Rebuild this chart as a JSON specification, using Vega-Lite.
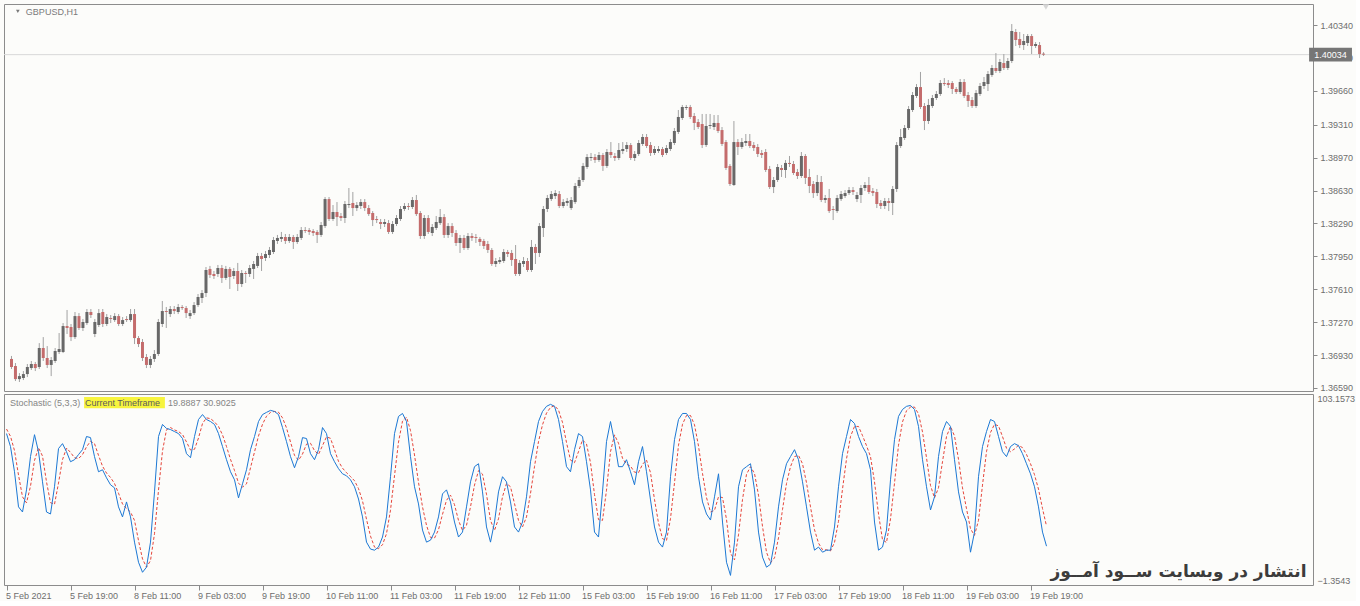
{
  "$schema": "https://vega.github.io/schema/vega-lite/v6.json",
  "background": "#fcfcfa",
  "padding": {"left": 3, "top": 3, "right": 0, "bottom": 0},
  "bounds": "flush",
  "spacing": 3,
  "config": {
    "view": {"stroke": "#8c8c8c", "strokeWidth": 1},
    "axis": {"labelFont": "Liberation Sans", "labelFontSize": 9, "labelColor": "#6e6e6e", "tickColor": "#8a8a8a", "domain": false, "grid": false, "title": null, "labelOverlap": false},
    "text": {"font": "Liberation Sans"}
  },
  "datasets": {
    "bars": [
{"i":0,"o":1.36890,"h":1.36921,"l":1.36786,"c":1.36807,"k":81.5,"d":84.0},
{"i":1,"o":1.36817,"h":1.36848,"l":1.36662,"c":1.36682,"k":74.4,"d":80.0},
{"i":2,"o":1.36682,"h":1.36744,"l":1.36652,"c":1.36713,"k":60.6,"d":72.2},
{"i":3,"o":1.36693,"h":1.36765,"l":1.36672,"c":1.36734,"k":41.4,"d":58.8},
{"i":4,"o":1.36734,"h":1.36838,"l":1.36703,"c":1.36807,"k":38.6,"d":46.9},
{"i":5,"o":1.36796,"h":1.36869,"l":1.36776,"c":1.36838,"k":50.7,"d":43.6},
{"i":6,"o":1.36838,"h":1.36859,"l":1.36765,"c":1.36796,"k":68.9,"d":52.7},
{"i":7,"o":1.36807,"h":1.37054,"l":1.36786,"c":1.37003,"k":80.9,"d":66.8},
{"i":8,"o":1.37003,"h":1.37116,"l":1.36869,"c":1.36900,"k":71.6,"d":73.8},
{"i":9,"o":1.36900,"h":1.37023,"l":1.36796,"c":1.36828,"k":55.1,"d":69.2},
{"i":10,"o":1.36828,"h":1.36910,"l":1.36713,"c":1.36879,"k":38.6,"d":55.1},
{"i":11,"o":1.36869,"h":1.37003,"l":1.36848,"c":1.36972,"k":37.5,"d":43.7},
{"i":12,"o":1.36962,"h":1.37158,"l":1.36941,"c":1.36993,"k":52.4,"d":42.8},
{"i":13,"o":1.36962,"h":1.37261,"l":1.36951,"c":1.37230,"k":73.3,"d":54.4},
{"i":14,"o":1.37230,"h":1.37396,"l":1.37148,"c":1.37210,"k":76.0,"d":67.2},
{"i":15,"o":1.37220,"h":1.37251,"l":1.37075,"c":1.37116,"k":71.6,"d":73.6},
{"i":16,"o":1.37116,"h":1.37375,"l":1.37096,"c":1.37333,"k":66.1,"d":71.2},
{"i":17,"o":1.37333,"h":1.37364,"l":1.37189,"c":1.37210,"k":67.2,"d":68.3},
{"i":18,"o":1.37210,"h":1.37303,"l":1.37179,"c":1.37272,"k":70.0,"d":67.8},
{"i":19,"o":1.37261,"h":1.37406,"l":1.37241,"c":1.37375,"k":72.7,"d":70.0},
{"i":20,"o":1.37375,"h":1.37406,"l":1.37313,"c":1.37344,"k":79.9,"d":74.2},
{"i":21,"o":1.37148,"h":1.37303,"l":1.37116,"c":1.37272,"k":79.3,"d":77.3},
{"i":22,"o":1.37241,"h":1.37406,"l":1.37220,"c":1.37364,"k":68.9,"d":76.0},
{"i":23,"o":1.37375,"h":1.37406,"l":1.37220,"c":1.37251,"k":60.6,"d":69.6},
{"i":24,"o":1.37251,"h":1.37354,"l":1.37230,"c":1.37323,"k":61.7,"d":63.7},
{"i":25,"o":1.37313,"h":1.37344,"l":1.37261,"c":1.37303,"k":57.3,"d":59.9},
{"i":26,"o":1.37292,"h":1.37364,"l":1.37272,"c":1.37333,"k":53.5,"d":57.5},
{"i":27,"o":1.37333,"h":1.37354,"l":1.37230,"c":1.37251,"k":51.8,"d":54.2},
{"i":28,"o":1.37251,"h":1.37323,"l":1.37230,"c":1.37292,"k":41.4,"d":48.9},
{"i":29,"o":1.37303,"h":1.37333,"l":1.37272,"c":1.37292,"k":35.9,"d":43.0},
{"i":30,"o":1.37292,"h":1.37406,"l":1.37272,"c":1.37354,"k":44.1,"d":40.5},
{"i":31,"o":1.37354,"h":1.37406,"l":1.37044,"c":1.37106,"k":35.9,"d":38.6},
{"i":32,"o":1.37106,"h":1.37127,"l":1.37013,"c":1.37044,"k":22.1,"d":34.0},
{"i":33,"o":1.37065,"h":1.37096,"l":1.36869,"c":1.36900,"k":11.1,"d":23.0},
{"i":34,"o":1.36910,"h":1.36941,"l":1.36796,"c":1.36828,"k":5.6,"d":12.9},
{"i":35,"o":1.36828,"h":1.36921,"l":1.36796,"c":1.36890,"k":8.4,"d":8.4},
{"i":36,"o":1.36890,"h":1.36982,"l":1.36859,"c":1.36941,"k":22.1,"d":12.0},
{"i":37,"o":1.36941,"h":1.37303,"l":1.36921,"c":1.37272,"k":49.6,"d":26.7},
{"i":38,"o":1.37251,"h":1.37489,"l":1.37220,"c":1.37385,"k":79.9,"d":50.5},
{"i":39,"o":1.37385,"h":1.37427,"l":1.37210,"c":1.37375,"k":86.5,"d":72.0},
{"i":40,"o":1.37354,"h":1.37437,"l":1.37323,"c":1.37406,"k":84.3,"d":83.6},
{"i":41,"o":1.37406,"h":1.37437,"l":1.37354,"c":1.37385,"k":83.7,"d":84.8},
{"i":42,"o":1.37375,"h":1.37458,"l":1.37354,"c":1.37427,"k":82.6,"d":83.5},
{"i":43,"o":1.37427,"h":1.37447,"l":1.37396,"c":1.37416,"k":81.5,"d":82.6},
{"i":44,"o":1.37416,"h":1.37437,"l":1.37313,"c":1.37364,"k":78.8,"d":81.0},
{"i":45,"o":1.37333,"h":1.37396,"l":1.37303,"c":1.37364,"k":70.5,"d":76.9},
{"i":46,"o":1.37364,"h":1.37478,"l":1.37344,"c":1.37447,"k":68.3,"d":72.5},
{"i":47,"o":1.37447,"h":1.37561,"l":1.37427,"c":1.37530,"k":79.9,"d":72.9},
{"i":48,"o":1.37520,"h":1.37602,"l":1.37468,"c":1.37571,"k":89.2,"d":79.1},
{"i":49,"o":1.37571,"h":1.37840,"l":1.37530,"c":1.37809,"k":91.9,"d":87.0},
{"i":50,"o":1.37820,"h":1.37851,"l":1.37727,"c":1.37758,"k":89.2,"d":90.1},
{"i":51,"o":1.37768,"h":1.37799,"l":1.37716,"c":1.37747,"k":88.1,"d":89.7},
{"i":52,"o":1.37768,"h":1.37861,"l":1.37737,"c":1.37830,"k":86.5,"d":87.9},
{"i":53,"o":1.37830,"h":1.37861,"l":1.37675,"c":1.37727,"k":81.5,"d":85.4},
{"i":54,"o":1.37727,"h":1.37851,"l":1.37706,"c":1.37820,"k":74.4,"d":80.8},
{"i":55,"o":1.37820,"h":1.37840,"l":1.37613,"c":1.37737,"k":67.2,"d":74.4},
{"i":56,"o":1.37747,"h":1.37830,"l":1.37716,"c":1.37799,"k":60.6,"d":67.4},
{"i":57,"o":1.37799,"h":1.37882,"l":1.37592,"c":1.37664,"k":56.2,"d":61.3},
{"i":58,"o":1.37664,"h":1.37809,"l":1.37633,"c":1.37778,"k":46.3,"d":54.4},
{"i":59,"o":1.37778,"h":1.37799,"l":1.37675,"c":1.37768,"k":54.0,"d":52.2},
{"i":60,"o":1.37768,"h":1.37861,"l":1.37737,"c":1.37830,"k":61.7,"d":54.0},
{"i":61,"o":1.37820,"h":1.37902,"l":1.37716,"c":1.37871,"k":72.7,"d":62.8},
{"i":62,"o":1.37851,"h":1.37985,"l":1.37830,"c":1.37954,"k":79.9,"d":71.4},
{"i":63,"o":1.37954,"h":1.37985,"l":1.37799,"c":1.37923,"k":88.1,"d":80.2},
{"i":64,"o":1.37933,"h":1.38005,"l":1.37902,"c":1.37974,"k":91.9,"d":86.6},
{"i":65,"o":1.37964,"h":1.38047,"l":1.37933,"c":1.38016,"k":93.1,"d":91.0},
{"i":66,"o":1.37995,"h":1.38150,"l":1.37974,"c":1.38119,"k":94.2,"d":93.1},
{"i":67,"o":1.38109,"h":1.38171,"l":1.38078,"c":1.38140,"k":93.6,"d":93.6},
{"i":68,"o":1.38130,"h":1.38202,"l":1.38098,"c":1.38150,"k":91.9,"d":93.2},
{"i":69,"o":1.38150,"h":1.38181,"l":1.38078,"c":1.38109,"k":84.8,"d":90.1},
{"i":70,"o":1.38109,"h":1.38181,"l":1.38088,"c":1.38150,"k":77.1,"d":84.6},
{"i":71,"o":1.38150,"h":1.38171,"l":1.38026,"c":1.38098,"k":68.9,"d":76.9},
{"i":72,"o":1.38098,"h":1.38181,"l":1.38078,"c":1.38150,"k":62.8,"d":69.6},
{"i":73,"o":1.38140,"h":1.38253,"l":1.38119,"c":1.38222,"k":68.9,"d":66.9},
{"i":74,"o":1.38222,"h":1.38253,"l":1.38191,"c":1.38212,"k":79.3,"d":70.3},
{"i":75,"o":1.38222,"h":1.38243,"l":1.38171,"c":1.38202,"k":78.8,"d":75.7},
{"i":76,"o":1.38212,"h":1.38232,"l":1.38160,"c":1.38191,"k":70.5,"d":76.2},
{"i":77,"o":1.38202,"h":1.38222,"l":1.38088,"c":1.38171,"k":67.2,"d":72.2},
{"i":78,"o":1.38171,"h":1.38305,"l":1.38150,"c":1.38274,"k":72.7,"d":70.1},
{"i":79,"o":1.38263,"h":1.38563,"l":1.38243,"c":1.38542,"k":84.8,"d":74.9},
{"i":80,"o":1.38542,"h":1.38563,"l":1.38315,"c":1.38336,"k":81.5,"d":79.7},
{"i":81,"o":1.38336,"h":1.38480,"l":1.38315,"c":1.38408,"k":70.5,"d":78.9},
{"i":82,"o":1.38408,"h":1.38511,"l":1.38263,"c":1.38356,"k":66.1,"d":72.7},
{"i":83,"o":1.38367,"h":1.38398,"l":1.38315,"c":1.38346,"k":62.3,"d":66.3},
{"i":84,"o":1.38346,"h":1.38522,"l":1.38294,"c":1.38491,"k":59.5,"d":62.6},
{"i":85,"o":1.38480,"h":1.38656,"l":1.38449,"c":1.38491,"k":58.4,"d":60.1},
{"i":86,"o":1.38501,"h":1.38615,"l":1.38367,"c":1.38449,"k":56.2,"d":58.0},
{"i":87,"o":1.38449,"h":1.38511,"l":1.38418,"c":1.38480,"k":52.4,"d":55.7},
{"i":88,"o":1.38470,"h":1.38542,"l":1.38439,"c":1.38511,"k":45.7,"d":51.4},
{"i":89,"o":1.38511,"h":1.38542,"l":1.38418,"c":1.38449,"k":35.9,"d":44.7},
{"i":90,"o":1.38449,"h":1.38480,"l":1.38367,"c":1.38387,"k":22.1,"d":34.6},
{"i":91,"o":1.38398,"h":1.38418,"l":1.38263,"c":1.38325,"k":18.3,"d":25.4},
{"i":92,"o":1.38336,"h":1.38367,"l":1.38294,"c":1.38325,"k":17.7,"d":19.4},
{"i":93,"o":1.38305,"h":1.38336,"l":1.38232,"c":1.38284,"k":19.4,"d":18.5},
{"i":94,"o":1.38284,"h":1.38336,"l":1.38253,"c":1.38305,"k":24.9,"d":20.7},
{"i":95,"o":1.38294,"h":1.38325,"l":1.38181,"c":1.38202,"k":35.9,"d":26.7},
{"i":96,"o":1.38202,"h":1.38315,"l":1.38181,"c":1.38284,"k":57.9,"d":39.6},
{"i":97,"o":1.38284,"h":1.38377,"l":1.38263,"c":1.38346,"k":81.5,"d":58.4},
{"i":98,"o":1.38336,"h":1.38470,"l":1.38315,"c":1.38439,"k":90.9,"d":76.8},
{"i":99,"o":1.38439,"h":1.38501,"l":1.38418,"c":1.38470,"k":92.5,"d":88.3},
{"i":100,"o":1.38470,"h":1.38501,"l":1.38429,"c":1.38460,"k":88.1,"d":90.5},
{"i":101,"o":1.38460,"h":1.38563,"l":1.38439,"c":1.38532,"k":68.9,"d":83.2},
{"i":102,"o":1.38532,"h":1.38584,"l":1.38367,"c":1.38387,"k":52.4,"d":69.8},
{"i":103,"o":1.38398,"h":1.38418,"l":1.38130,"c":1.38160,"k":43.0,"d":54.8},
{"i":104,"o":1.38160,"h":1.38377,"l":1.38130,"c":1.38346,"k":28.7,"d":41.4},
{"i":105,"o":1.38346,"h":1.38377,"l":1.38181,"c":1.38202,"k":22.1,"d":31.3},
{"i":106,"o":1.38191,"h":1.38284,"l":1.38160,"c":1.38253,"k":23.2,"d":24.7},
{"i":107,"o":1.38243,"h":1.38367,"l":1.38222,"c":1.38305,"k":27.6,"d":24.3},
{"i":108,"o":1.38294,"h":1.38439,"l":1.38274,"c":1.38356,"k":35.9,"d":28.9},
{"i":109,"o":1.38356,"h":1.38387,"l":1.38140,"c":1.38171,"k":48.5,"d":37.3},
{"i":110,"o":1.38171,"h":1.38294,"l":1.38140,"c":1.38263,"k":50.7,"d":45.0},
{"i":111,"o":1.38263,"h":1.38294,"l":1.38150,"c":1.38191,"k":44.1,"d":47.8},
{"i":112,"o":1.38191,"h":1.38222,"l":1.38057,"c":1.38088,"k":33.1,"d":42.6},
{"i":113,"o":1.38088,"h":1.38171,"l":1.37985,"c":1.38140,"k":24.9,"d":34.0},
{"i":114,"o":1.38140,"h":1.38171,"l":1.38016,"c":1.38036,"k":27.6,"d":28.5},
{"i":115,"o":1.38036,"h":1.38191,"l":1.38016,"c":1.38160,"k":41.4,"d":31.3},
{"i":116,"o":1.38160,"h":1.38191,"l":1.38109,"c":1.38140,"k":55.1,"d":41.4},
{"i":117,"o":1.38150,"h":1.38181,"l":1.38088,"c":1.38140,"k":63.4,"d":53.3},
{"i":118,"o":1.38130,"h":1.38150,"l":1.38057,"c":1.38098,"k":65.0,"d":61.2},
{"i":119,"o":1.38109,"h":1.38130,"l":1.38026,"c":1.38057,"k":49.6,"d":59.3},
{"i":120,"o":1.38078,"h":1.38109,"l":1.37985,"c":1.38016,"k":30.4,"d":48.3},
{"i":121,"o":1.38016,"h":1.38036,"l":1.37851,"c":1.37871,"k":22.1,"d":34.0},
{"i":122,"o":1.37871,"h":1.37933,"l":1.37840,"c":1.37902,"k":33.1,"d":28.5},
{"i":123,"o":1.37892,"h":1.37943,"l":1.37871,"c":1.37912,"k":49.6,"d":34.9},
{"i":124,"o":1.37902,"h":1.38026,"l":1.37882,"c":1.37995,"k":57.9,"d":46.9},
{"i":125,"o":1.37995,"h":1.38016,"l":1.37943,"c":1.37974,"k":55.1,"d":54.2},
{"i":126,"o":1.37985,"h":1.38016,"l":1.37851,"c":1.37912,"k":44.1,"d":52.4},
{"i":127,"o":1.37923,"h":1.38067,"l":1.37747,"c":1.37768,"k":30.4,"d":43.2},
{"i":128,"o":1.37768,"h":1.37912,"l":1.37747,"c":1.37882,"k":27.6,"d":34.0},
{"i":129,"o":1.37871,"h":1.37943,"l":1.37840,"c":1.37902,"k":33.1,"d":30.4},
{"i":130,"o":1.37902,"h":1.37933,"l":1.37789,"c":1.37809,"k":46.9,"d":35.9},
{"i":131,"o":1.37809,"h":1.38119,"l":1.37789,"c":1.38047,"k":66.1,"d":48.7},
{"i":132,"o":1.38047,"h":1.38078,"l":1.37871,"c":1.37985,"k":77.1,"d":63.4},
{"i":133,"o":1.37985,"h":1.38294,"l":1.37943,"c":1.38263,"k":88.1,"d":77.1},
{"i":134,"o":1.38243,"h":1.38470,"l":1.38150,"c":1.38439,"k":93.6,"d":86.3},
{"i":135,"o":1.38439,"h":1.38584,"l":1.38408,"c":1.38553,"k":96.4,"d":92.7},
{"i":136,"o":1.38542,"h":1.38625,"l":1.38522,"c":1.38594,"k":97.5,"d":95.8},
{"i":137,"o":1.38573,"h":1.38635,"l":1.38542,"c":1.38604,"k":96.4,"d":96.8},
{"i":138,"o":1.38594,"h":1.38625,"l":1.38449,"c":1.38470,"k":89.2,"d":94.4},
{"i":139,"o":1.38470,"h":1.38542,"l":1.38449,"c":1.38511,"k":77.1,"d":87.6},
{"i":140,"o":1.38501,"h":1.38553,"l":1.38470,"c":1.38522,"k":63.4,"d":76.6},
{"i":141,"o":1.38449,"h":1.38563,"l":1.38429,"c":1.38532,"k":60.6,"d":67.0},
{"i":142,"o":1.38511,"h":1.38708,"l":1.38491,"c":1.38677,"k":72.7,"d":65.6},
{"i":143,"o":1.38677,"h":1.38770,"l":1.38656,"c":1.38739,"k":81.5,"d":71.6},
{"i":144,"o":1.38739,"h":1.38915,"l":1.38718,"c":1.38884,"k":79.9,"d":78.0},
{"i":145,"o":1.38873,"h":1.39007,"l":1.38853,"c":1.38976,"k":66.1,"d":75.8},
{"i":146,"o":1.38966,"h":1.39018,"l":1.38935,"c":1.38976,"k":50.7,"d":65.6},
{"i":147,"o":1.38976,"h":1.39007,"l":1.38915,"c":1.38945,"k":27.6,"d":48.1},
{"i":148,"o":1.38945,"h":1.39028,"l":1.38925,"c":1.38997,"k":24.9,"d":34.4},
{"i":149,"o":1.38997,"h":1.39018,"l":1.38832,"c":1.38884,"k":49.6,"d":34.0},
{"i":150,"o":1.38884,"h":1.39059,"l":1.38863,"c":1.39028,"k":77.1,"d":50.5},
{"i":151,"o":1.39028,"h":1.39131,"l":1.38966,"c":1.38997,"k":88.1,"d":71.6},
{"i":152,"o":1.38987,"h":1.39018,"l":1.38935,"c":1.38966,"k":77.1,"d":80.8},
{"i":153,"o":1.38966,"h":1.39121,"l":1.38945,"c":1.39049,"k":63.4,"d":76.2},
{"i":154,"o":1.39038,"h":1.39131,"l":1.39007,"c":1.39059,"k":63.4,"d":68.0},
{"i":155,"o":1.39059,"h":1.39131,"l":1.39028,"c":1.39100,"k":67.2,"d":64.7},
{"i":156,"o":1.39100,"h":1.39121,"l":1.38945,"c":1.38966,"k":60.6,"d":63.7},
{"i":157,"o":1.38966,"h":1.39038,"l":1.38935,"c":1.39007,"k":53.5,"d":60.4},
{"i":158,"o":1.39007,"h":1.39152,"l":1.38987,"c":1.39121,"k":66.1,"d":60.1},
{"i":159,"o":1.39111,"h":1.39214,"l":1.39090,"c":1.39183,"k":74.4,"d":64.7},
{"i":160,"o":1.39183,"h":1.39214,"l":1.39069,"c":1.39090,"k":60.6,"d":67.0},
{"i":161,"o":1.39100,"h":1.39131,"l":1.38987,"c":1.39018,"k":45.2,"d":60.1},
{"i":162,"o":1.39018,"h":1.39090,"l":1.38997,"c":1.39059,"k":30.4,"d":45.4},
{"i":163,"o":1.39038,"h":1.39090,"l":1.39018,"c":1.39059,"k":22.1,"d":32.6},
{"i":164,"o":1.39059,"h":1.39080,"l":1.38976,"c":1.38997,"k":19.4,"d":24.0},
{"i":165,"o":1.39018,"h":1.39100,"l":1.38997,"c":1.39069,"k":27.6,"d":23.0},
{"i":166,"o":1.39059,"h":1.39162,"l":1.39038,"c":1.39131,"k":57.9,"d":35.0},
{"i":167,"o":1.39121,"h":1.39276,"l":1.39100,"c":1.39245,"k":78.2,"d":54.6},
{"i":168,"o":1.39235,"h":1.39462,"l":1.39214,"c":1.39390,"k":89.2,"d":75.1},
{"i":169,"o":1.39379,"h":1.39514,"l":1.39359,"c":1.39493,"k":92.5,"d":86.6},
{"i":170,"o":1.39483,"h":1.39514,"l":1.39462,"c":1.39493,"k":92.5,"d":91.4},
{"i":171,"o":1.39493,"h":1.39514,"l":1.39369,"c":1.39390,"k":89.2,"d":91.4},
{"i":172,"o":1.39400,"h":1.39431,"l":1.39255,"c":1.39328,"k":77.1,"d":86.3},
{"i":173,"o":1.39338,"h":1.39369,"l":1.39266,"c":1.39286,"k":57.9,"d":74.7},
{"i":174,"o":1.39317,"h":1.39421,"l":1.39069,"c":1.39100,"k":44.1,"d":59.7},
{"i":175,"o":1.39100,"h":1.39421,"l":1.39080,"c":1.39297,"k":37.5,"d":46.5},
{"i":176,"o":1.39297,"h":1.39421,"l":1.39266,"c":1.39307,"k":34.2,"d":38.6},
{"i":177,"o":1.39286,"h":1.39410,"l":1.39255,"c":1.39328,"k":46.9,"d":39.5},
{"i":178,"o":1.39328,"h":1.39410,"l":1.39224,"c":1.39245,"k":59.5,"d":46.9},
{"i":179,"o":1.39255,"h":1.39286,"l":1.39090,"c":1.39111,"k":33.1,"d":46.5},
{"i":180,"o":1.39131,"h":1.39152,"l":1.38842,"c":1.38863,"k":11.1,"d":34.6},
{"i":181,"o":1.38884,"h":1.38904,"l":1.38677,"c":1.38697,"k":3.9,"d":16.0},
{"i":182,"o":1.38687,"h":1.39348,"l":1.38677,"c":1.39131,"k":22.1,"d":12.4},
{"i":183,"o":1.39131,"h":1.39162,"l":1.38997,"c":1.39080,"k":52.4,"d":26.1},
{"i":184,"o":1.39080,"h":1.39173,"l":1.39059,"c":1.39131,"k":61.7,"d":45.4},
{"i":185,"o":1.39121,"h":1.39214,"l":1.39090,"c":1.39142,"k":63.4,"d":59.2},
{"i":186,"o":1.39142,"h":1.39214,"l":1.39069,"c":1.39090,"k":65.0,"d":63.4},
{"i":187,"o":1.39100,"h":1.39131,"l":1.39038,"c":1.39069,"k":50.7,"d":59.7},
{"i":188,"o":1.39080,"h":1.39111,"l":1.38976,"c":1.39007,"k":27.6,"d":47.8},
{"i":189,"o":1.39018,"h":1.39049,"l":1.38966,"c":1.38997,"k":13.9,"d":30.7},
{"i":190,"o":1.39028,"h":1.39059,"l":1.38821,"c":1.38842,"k":8.4,"d":16.6},
{"i":191,"o":1.38853,"h":1.38884,"l":1.38646,"c":1.38666,"k":10.0,"d":10.8},
{"i":192,"o":1.38666,"h":1.38770,"l":1.38604,"c":1.38739,"k":22.1,"d":13.5},
{"i":193,"o":1.38739,"h":1.38904,"l":1.38718,"c":1.38873,"k":41.4,"d":24.5},
{"i":194,"o":1.38863,"h":1.38894,"l":1.38770,"c":1.38842,"k":56.2,"d":39.9},
{"i":195,"o":1.38842,"h":1.38945,"l":1.38760,"c":1.38915,"k":65.0,"d":54.2},
{"i":196,"o":1.38915,"h":1.38987,"l":1.38873,"c":1.38904,"k":68.9,"d":63.4},
{"i":197,"o":1.38904,"h":1.38935,"l":1.38791,"c":1.38811,"k":72.7,"d":68.9},
{"i":198,"o":1.38821,"h":1.38853,"l":1.38749,"c":1.38780,"k":67.2,"d":69.6},
{"i":199,"o":1.38780,"h":1.39028,"l":1.38760,"c":1.38987,"k":55.1,"d":65.0},
{"i":200,"o":1.38987,"h":1.39007,"l":1.38697,"c":1.38760,"k":41.4,"d":54.6},
{"i":201,"o":1.38770,"h":1.38853,"l":1.38604,"c":1.38677,"k":27.6,"d":41.4},
{"i":202,"o":1.38697,"h":1.38728,"l":1.38553,"c":1.38604,"k":17.7,"d":28.9},
{"i":203,"o":1.38604,"h":1.38791,"l":1.38573,"c":1.38718,"k":19.4,"d":21.6},
{"i":204,"o":1.38718,"h":1.38780,"l":1.38511,"c":1.38532,"k":16.6,"d":17.9},
{"i":205,"o":1.38532,"h":1.38584,"l":1.38501,"c":1.38553,"k":17.7,"d":17.9},
{"i":206,"o":1.38553,"h":1.38646,"l":1.38398,"c":1.38418,"k":17.7,"d":17.3},
{"i":207,"o":1.38439,"h":1.38470,"l":1.38325,"c":1.38429,"k":30.4,"d":21.9},
{"i":208,"o":1.38418,"h":1.38584,"l":1.38398,"c":1.38553,"k":52.4,"d":33.5},
{"i":209,"o":1.38542,"h":1.38625,"l":1.38522,"c":1.38594,"k":70.5,"d":51.1},
{"i":210,"o":1.38573,"h":1.38635,"l":1.38553,"c":1.38604,"k":79.9,"d":67.6},
{"i":211,"o":1.38604,"h":1.38666,"l":1.38584,"c":1.38635,"k":89.2,"d":79.9},
{"i":212,"o":1.38635,"h":1.38666,"l":1.38584,"c":1.38615,"k":87.0,"d":85.4},
{"i":213,"o":1.38542,"h":1.38615,"l":1.38511,"c":1.38584,"k":79.9,"d":85.4},
{"i":214,"o":1.38584,"h":1.38687,"l":1.38501,"c":1.38656,"k":74.4,"d":80.4},
{"i":215,"o":1.38656,"h":1.38718,"l":1.38625,"c":1.38687,"k":70.5,"d":74.9},
{"i":216,"o":1.38687,"h":1.38770,"l":1.38594,"c":1.38615,"k":61.7,"d":68.9},
{"i":217,"o":1.38625,"h":1.38656,"l":1.38573,"c":1.38604,"k":33.1,"d":55.1},
{"i":218,"o":1.38615,"h":1.38646,"l":1.38449,"c":1.38491,"k":17.7,"d":37.5},
{"i":219,"o":1.38501,"h":1.38532,"l":1.38439,"c":1.38470,"k":19.4,"d":23.4},
{"i":220,"o":1.38470,"h":1.38553,"l":1.38439,"c":1.38522,"k":28.7,"d":21.9},
{"i":221,"o":1.38522,"h":1.38553,"l":1.38418,"c":1.38501,"k":56.2,"d":34.8},
{"i":222,"o":1.38501,"h":1.38677,"l":1.38377,"c":1.38646,"k":78.2,"d":54.4},
{"i":223,"o":1.38646,"h":1.39131,"l":1.38615,"c":1.39100,"k":90.9,"d":75.1},
{"i":224,"o":1.39090,"h":1.39266,"l":1.39069,"c":1.39183,"k":94.7,"d":87.9},
{"i":225,"o":1.39173,"h":1.39307,"l":1.39152,"c":1.39276,"k":96.4,"d":94.0},
{"i":226,"o":1.39276,"h":1.39503,"l":1.39255,"c":1.39472,"k":96.9,"d":96.0},
{"i":227,"o":1.39462,"h":1.39648,"l":1.39441,"c":1.39617,"k":94.7,"d":96.0},
{"i":228,"o":1.39607,"h":1.39730,"l":1.39586,"c":1.39699,"k":85.4,"d":92.3},
{"i":229,"o":1.39699,"h":1.39855,"l":1.39472,"c":1.39493,"k":67.2,"d":82.4},
{"i":230,"o":1.39503,"h":1.39534,"l":1.39255,"c":1.39348,"k":52.4,"d":68.3},
{"i":231,"o":1.39348,"h":1.39576,"l":1.39317,"c":1.39514,"k":39.7,"d":53.1},
{"i":232,"o":1.39503,"h":1.39617,"l":1.39483,"c":1.39586,"k":46.9,"d":46.3},
{"i":233,"o":1.39586,"h":1.39658,"l":1.39565,"c":1.39627,"k":68.9,"d":51.8},
{"i":234,"o":1.39627,"h":1.39772,"l":1.39607,"c":1.39741,"k":82.6,"d":66.1},
{"i":235,"o":1.39741,"h":1.39792,"l":1.39710,"c":1.39730,"k":88.1,"d":79.9},
{"i":236,"o":1.39741,"h":1.39772,"l":1.39689,"c":1.39720,"k":85.4,"d":85.4},
{"i":237,"o":1.39741,"h":1.39761,"l":1.39627,"c":1.39679,"k":67.2,"d":80.2},
{"i":238,"o":1.39679,"h":1.39699,"l":1.39627,"c":1.39648,"k":49.6,"d":67.4},
{"i":239,"o":1.39648,"h":1.39782,"l":1.39627,"c":1.39751,"k":38.6,"d":51.8},
{"i":240,"o":1.39751,"h":1.39782,"l":1.39586,"c":1.39607,"k":33.1,"d":40.4},
{"i":241,"o":1.39617,"h":1.39648,"l":1.39493,"c":1.39555,"k":16.6,"d":29.4},
{"i":242,"o":1.39565,"h":1.39596,"l":1.39483,"c":1.39503,"k":27.6,"d":25.8},
{"i":243,"o":1.39503,"h":1.39668,"l":1.39483,"c":1.39638,"k":57.9,"d":34.0},
{"i":244,"o":1.39627,"h":1.39741,"l":1.39607,"c":1.39710,"k":74.4,"d":53.3},
{"i":245,"o":1.39710,"h":1.39803,"l":1.39679,"c":1.39751,"k":82.6,"d":71.6},
{"i":246,"o":1.39730,"h":1.39865,"l":1.39658,"c":1.39834,"k":89.2,"d":82.1},
{"i":247,"o":1.39823,"h":1.39927,"l":1.39803,"c":1.39896,"k":88.1,"d":86.6},
{"i":248,"o":1.39896,"h":1.40050,"l":1.39844,"c":1.39865,"k":79.9,"d":85.7},
{"i":249,"o":1.39865,"h":1.39989,"l":1.39844,"c":1.39958,"k":71.6,"d":79.9},
{"i":250,"o":1.39947,"h":1.40040,"l":1.39875,"c":1.39896,"k":68.9,"d":73.5},
{"i":251,"o":1.39896,"h":1.39999,"l":1.39875,"c":1.39968,"k":74.4,"d":71.6},
{"i":252,"o":1.39968,"h":1.40350,"l":1.39947,"c":1.40278,"k":76.0,"d":73.1},
{"i":253,"o":1.40268,"h":1.40299,"l":1.40123,"c":1.40185,"k":74.9,"d":75.1},
{"i":254,"o":1.40195,"h":1.40268,"l":1.40102,"c":1.40133,"k":70.5,"d":73.8},
{"i":255,"o":1.40133,"h":1.40247,"l":1.40082,"c":1.40175,"k":65.0,"d":70.1},
{"i":256,"o":1.40154,"h":1.40247,"l":1.40123,"c":1.40226,"k":59.5,"d":65.0},
{"i":257,"o":1.40226,"h":1.40247,"l":1.40040,"c":1.40123,"k":52.4,"d":59.0},
{"i":258,"o":1.40123,"h":1.40164,"l":1.40102,"c":1.40144,"k":41.4,"d":51.1},
{"i":259,"o":1.40133,"h":1.40164,"l":1.39999,"c":1.40040,"k":27.6,"d":40.5},
{"i":260,"o":1.40044,"h":1.40060,"l":1.40020,"c":1.40034,"k":19.9,"d":30.9}
    ]
  },
  "vconcat": [
    {
      "width": 1309,
      "height": 387,
      "data": {"name": "bars"},
      "layer": [
        {
          "data": {"values": [{"p": 1.40034}]},
          "mark": {"type": "rule", "color": "#d8d8d8", "strokeWidth": 1},
          "encoding": {
            "y": {"field": "p", "type": "quantitative", "title": null,
              "scale": {"domain": [1.36559, 1.40557], "zero": false, "nice": false},
              "axis": {"orient": "right", "values": [1.3659, 1.3693, 1.3727, 1.3761, 1.3795, 1.3829, 1.3863, 1.3897, 1.3931, 1.3966, 1.4, 1.4034], "tickCount": 24, "format": ".5f", "tickSize": 4, "labelPadding": 3, "labelBaseline": "middle", "labelOverlap": false, "labelBound": false, "labelFlush": false}
            }
          }
        },
        {
          "mark": {"type": "rule", "color": "#a2a2a2", "strokeWidth": 1},
          "encoding": {
            "x": {"field": "i", "type": "quantitative", "title": null, "scale": {"domain": [-0.625, 326.625], "zero": false, "nice": false}, "axis": null},
            "y": {"field": "l", "type": "quantitative", "title": null},
            "y2": {"field": "h"}
          }
        },
        {
          "mark": {"type": "bar", "orient": "vertical", "size": 3},
          "encoding": {
            "x": {"field": "i", "type": "quantitative", "title": null},
            "y": {"field": "o", "type": "quantitative", "title": null},
            "y2": {"field": "c"},
            "color": {"condition": {"test": "datum.c < datum.o", "value": "#c46c6c"}, "value": "#686868"}
          }
        },
        {
          "data": {"values": [{"t": "GBPUSD,H1", "x": 3.625, "y": 1.40474}]},
          "mark": {"type": "text", "align": "left", "baseline": "middle", "fontSize": 9, "color": "#7a7a7a"},
          "encoding": {
            "x": {"field": "x", "type": "quantitative", "title": null},
            "y": {"field": "y", "type": "quantitative", "title": null},
            "text": {"field": "t"}
          }
        },
        {
          "data": {"values": [{"x": 1.6, "y": 1.40482}]},
          "mark": {"type": "point", "shape": "triangle-down", "size": 14, "filled": true, "color": "#7a7a7a", "opacity": 1},
          "encoding": {
            "x": {"field": "x", "type": "quantitative", "title": null},
            "y": {"field": "y", "type": "quantitative", "title": null}
          }
        },
        {
          "data": {"values": [{"x": 260.6, "y": 1.40525}]},
          "mark": {"type": "point", "shape": "triangle-down", "size": 40, "filled": true, "color": "#d6d6d6", "opacity": 1},
          "encoding": {
            "x": {"field": "x", "type": "quantitative", "title": null},
            "y": {"field": "y", "type": "quantitative", "title": null}
          }
        },
        {
          "data": {"values": [{"x": 326.9, "x2": 337.7, "y": 1.39964, "y2": 1.40104}]},
          "mark": {"type": "rect", "color": "#767676"},
          "encoding": {
            "x": {"field": "x", "type": "quantitative", "title": null},
            "x2": {"field": "x2"},
            "y": {"field": "y", "type": "quantitative", "title": null},
            "y2": {"field": "y2"}
          }
        },
        {
          "data": {"values": [{"x": 332.3, "p": 1.40034}]},
          "mark": {"type": "text", "align": "center", "baseline": "middle", "fontSize": 9, "color": "#ffffff"},
          "encoding": {
            "x": {"field": "x", "type": "quantitative", "title": null},
            "y": {"field": "p", "type": "quantitative", "title": null},
            "text": {"field": "p", "format": ".5f"}
          }
        }
      ]
    },
    {
      "width": 1309,
      "height": 191,
      "data": {"name": "bars"},
      "layer": [
        {
          "data": {"values": [{"x": 19.4, "x2": 39.6, "y": 101.5, "y2": 95.4}]},
          "mark": {"type": "rect", "color": "#f7f43e"},
          "encoding": {
            "x": {"field": "x", "type": "quantitative", "title": null,
              "scale": {"domain": [-0.625, 326.625], "zero": false, "nice": false},
              "axis": {"values": [0, 16, 32, 48, 64, 80, 96, 112, 128, 144, 160, 176, 192, 208, 224, 240, 256], "tickCount": 40,
                "labelExpr": "['5 Feb 2021','5 Feb 19:00','8 Feb 11:00','9 Feb 03:00','9 Feb 19:00','10 Feb 11:00','11 Feb 03:00','11 Feb 19:00','12 Feb 11:00','15 Feb 03:00','15 Feb 19:00','16 Feb 11:00','17 Feb 03:00','17 Feb 19:00','18 Feb 11:00','19 Feb 03:00','19 Feb 19:00'][round(datum.value/16)]",
                "tickSize": 5, "labelAlign": "left", "labelPadding": 1, "labelOffset": -1, "labelFlush": false, "labelOverlap": false, "labelBound": false}
            },
            "x2": {"field": "x2"},
            "y": {"field": "y", "type": "quantitative", "title": null,
              "scale": {"domain": [-1.3543, 103.1573], "zero": false, "nice": false},
              "axis": {"orient": "right", "values": [-1.3543, 103.1573], "format": ".4f", "ticks": false, "labelPadding": 4, "labelFlush": true, "labelOverlap": false}
            },
            "y2": {"field": "y2"}
          }
        },
        {
          "data": {"values": [
            {"t": "Stochastic (5,3,3)", "x": 0.9, "y": 98.4, "g": "a"},
            {"t": "Current Timeframe", "x": 19.6, "y": 98.4, "g": "b"},
            {"t": "19.8887 30.9025", "x": 40.4, "y": 98.4, "g": "a"}
          ]},
          "mark": {"type": "text", "align": "left", "baseline": "middle", "fontSize": 9},
          "encoding": {
            "x": {"field": "x", "type": "quantitative", "title": null},
            "y": {"field": "y", "type": "quantitative", "title": null},
            "text": {"field": "t"},
            "color": {"condition": {"test": "datum.g == 'b'", "value": "#5a5a5a"}, "value": "#858585"}
          }
        },
        {
          "mark": {"type": "line", "color": "#e5453a", "strokeWidth": 1, "strokeDash": [3, 2]},
          "encoding": {
            "x": {"field": "i", "type": "quantitative", "title": null},
            "y": {"field": "d", "type": "quantitative", "title": null}
          }
        },
        {
          "mark": {"type": "line", "color": "#1c78d4", "strokeWidth": 1},
          "encoding": {
            "x": {"field": "i", "type": "quantitative", "title": null},
            "y": {"field": "k", "type": "quantitative", "title": null}
          }
        },
        {
          "data": {"values": [{"t": "انتشار در وبسایت ســود آمــوز", "x": 325.0, "y": 1.0}]},
          "mark": {"type": "text", "align": "right", "baseline": "bottom", "font": "DejaVu Sans", "fontWeight": "bold", "fontSize": 17, "color": "#3c3c3c"},
          "encoding": {
            "x": {"field": "x", "type": "quantitative", "title": null},
            "y": {"field": "y", "type": "quantitative", "title": null},
            "text": {"field": "t"}
          }
        }
      ]
    }
  ]
}
